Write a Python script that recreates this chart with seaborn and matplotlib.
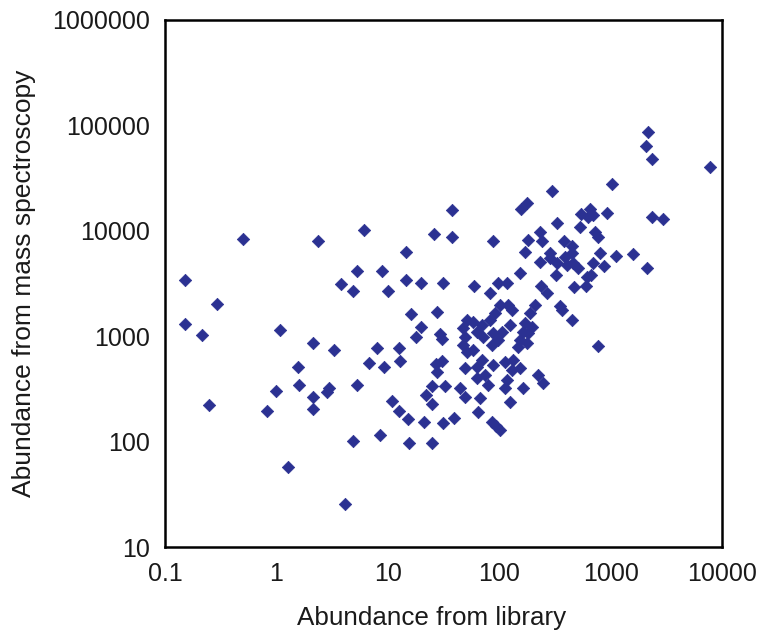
import matplotlib
matplotlib.use("Agg")
import matplotlib.pyplot as plt
import seaborn as sns
import pandas as pd

# Abundance of each protein: cDNA library counts vs. mass-spectrometry signal
library_abundance = [
    0.150, 0.150, 0.217, 0.293, 0.247, 0.50, 1.08, 1.0, 0.83, 1.27,
    1.56, 1.60, 2.11, 2.11, 2.11, 2.37, 3.30, 2.83, 2.95, 3.83,
    4.85, 5.30, 5.30, 4.85, 4.12, 6.1, 6.8, 8.0, 8.8, 10.0,
    9.2, 8.6, 11.0, 12.5, 12.5, 13.0, 14.5, 14.5, 16.0, 18.0,
    20.0, 15.3, 15.6, 20.0, 21.2, 22.0, 25.0, 25.0, 25.0, 25.8,
    27.5, 29.4, 30.6, 31.0, 30.6, 27.3, 27.7, 32.4, 31.3, 37.5,
    37.5, 39.0, 60, 82.7, 88, 85.5, 94, 102, 97.5, 117,
    154, 170, 181, 156, 177, 231, 241, 231, 235, 266,
    300, 333, 288, 326, 353, 368, 384, 451, 470, 451,
    510, 544, 531, 600, 651, 667, 724, 767, 798, 867,
    767, 925, 1020, 1124, 1597, 2124, 2158, 2090, 2344, 2344,
    2944, 7830,
    102, 121, 129, 91.7, 82.6, 209, 189, 125, 51, 58.6,
    69.7, 47.6, 49.3, 47.6, 51, 58.6, 62.8, 72, 88.5, 98.2,
    85.7, 105, 171, 165, 154, 148, 182, 177, 196,
    49.3, 62.8, 69.7, 88.5, 113, 134, 154, 129, 74.6, 79.8,
    62.8, 117, 113, 165, 224, 249, 44.5, 49.3, 67.3, 125, 64.9,
    286, 328, 390, 448, 404, 462, 700, 610, 700, 631,
]
ms_abundance = [
    3440, 1300, 1026, 2010, 221, 8280, 1153, 305, 195, 57,
    507, 346, 863, 267, 203, 8020, 738, 295, 324, 3140,
    2690, 4120, 343, 102, 25.6, 10230, 561, 767, 4120, 2690,
    511, 115, 243, 195, 767, 583, 6340, 3440, 1640, 986,
    1228, 163, 97, 3210, 155, 278, 338, 229, 97, 9370,
    1680, 1050, 948, 3210, 583, 540, 455, 338, 151, 15850,
    8800, 167, 2970, 2580, 8020, 155, 141, 130, 3210, 3210,
    3970, 6340, 8150, 15960, 18240, 9750, 8020, 5010, 3020, 2580,
    23990, 11860, 6100, 3820, 1918, 1774, 8020, 7130, 2900, 1425,
    4460, 14420, 10960, 2970, 16220, 3820, 9750, 8670, 6100, 4640,
    811, 14650, 27600, 5820, 6010, 4460, 85700, 63700, 48450, 13650,
    12910, 39900,
    1977, 1977, 1774, 1648, 1425, 1977, 1648, 1276, 1425, 1374,
    1276, 1189, 989, 824, 713, 740, 1104, 989, 1064, 920,
    824, 1104, 1324, 1104, 920, 794, 1064, 857, 1231,
    495, 514, 594, 533, 573, 594, 495, 478, 428, 344,
    399, 384, 321, 321, 428, 357, 321, 267, 258, 239, 192,
    5480, 4920, 5680, 6120, 4740, 4920, 4920, 3670, 14130, 13610,
]

x_ticks = [0.1, 1, 10, 100, 1000, 10000]
x_tick_labels = ["0.1", "1", "10", "100", "1000", "10000"]
y_ticks = [10, 100, 1000, 10000, 100000, 1000000]
y_tick_labels = ["10", "100", "1000", "10000", "100000", "1000000"]

df = pd.DataFrame({"library": library_abundance, "ms": ms_abundance})

sns.set_style("white")
plt.rcParams["font.family"] = ["Liberation Sans", "DejaVu Sans"]

fig = plt.figure(figsize=(7.75, 6.34), dpi=100)
ax = fig.add_axes([0.2129, 0.1372, 0.7187, 0.8313])

marker_color = "#2B3192"
sns.scatterplot(data=df, x="library", y="ms", marker="D", s=40,
                color=marker_color, edgecolor=marker_color, linewidth=0.5,
                ax=ax, legend=False)

ax.set_xscale("log")
ax.set_yscale("log")
ax.set_xlim(0.1, 10000)
ax.set_ylim(10, 1000000)
ax.set_xticks(x_ticks)
ax.set_xticklabels(x_tick_labels)
ax.set_yticks(y_ticks)
ax.set_yticklabels(y_tick_labels)
ax.minorticks_off()

ax.tick_params(axis="both", which="major", direction="in", length=6.5,
               width=1.5, color="black", labelsize=18, labelcolor="#1a1a1a",
               pad=11)

for side in ["left", "right", "top", "bottom"]:
    ax.spines[side].set_visible(True)
    ax.spines[side].set_linewidth(1.8)
    ax.spines[side].set_color("black")

ax.set_xlabel("Abundance from library", fontsize=18.7, color="#1a1a1a")
ax.set_ylabel("Abundance from mass spectroscopy", fontsize=19, color="#1a1a1a")
ax.xaxis.set_label_coords(0.479, -0.112)
ax.yaxis.set_label_coords(-0.232, 0.5)

fig.savefig("out.png", dpi=100)
